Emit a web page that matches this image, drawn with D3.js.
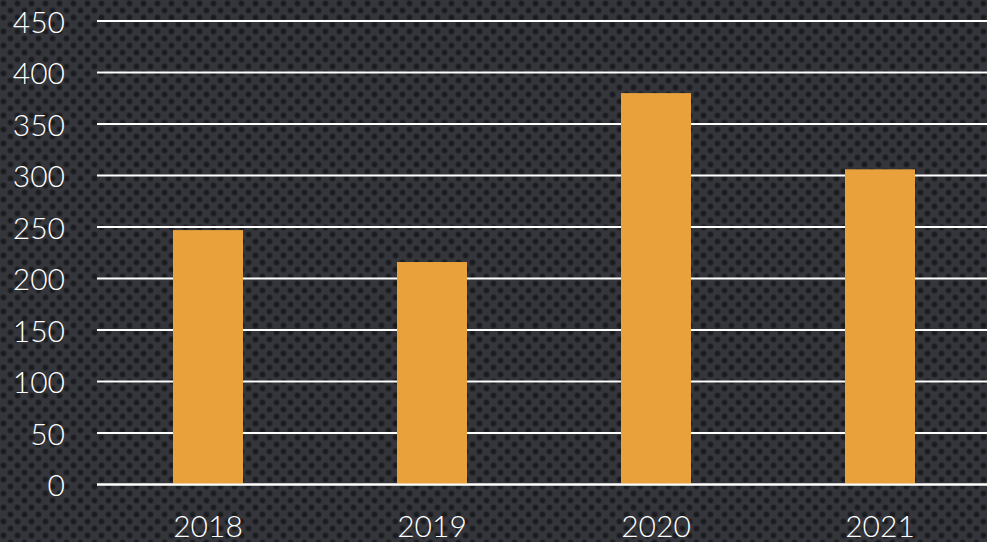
<!DOCTYPE html>
<html><head><meta charset="utf-8">
<script src="https://cdn.jsdelivr.net/npm/d3@7"></script>
<style>html,body{margin:0;padding:0;background:#2b2d31;overflow:hidden}</style>
</head><body>
<script>
const categories = ["2018", "2019", "2020", "2021"];
const values = [247, 216, 380, 306];
const yTicks = [0, 50, 100, 150, 200, 250, 300, 350, 400, 450];

const W = 987, H = 542;
const svg = d3.select("body").append("svg").attr("width", W).attr("height", H);
const defs = svg.append("defs");
const rg = defs.append("radialGradient").attr("id", "dot");
rg.append("stop").attr("offset", "0%").attr("stop-color", "#16171a");
rg.append("stop").attr("offset", "55%").attr("stop-color", "#1f2023");
rg.append("stop").attr("offset", "100%").attr("stop-color", "#2e3035").attr("stop-opacity", 0);
const P = 14;
const pat = defs.append("pattern").attr("id", "bg").attr("patternUnits", "userSpaceOnUse")
  .attr("width", P).attr("height", P);
pat.append("rect").attr("width", P).attr("height", P).attr("fill", "#34363b");
pat.append("circle").attr("cx", P / 4).attr("cy", P / 4).attr("r", 4.2).attr("fill", "url(#dot)");
pat.append("circle").attr("cx", 3 * P / 4).attr("cy", 3 * P / 4).attr("r", 4.2).attr("fill", "url(#dot)");
svg.append("rect").attr("width", W).attr("height", H).attr("fill", "url(#bg)");

const x = d3.scaleBand().domain(categories).range([96, 992]).paddingInner(0.6875).paddingOuter(0.34375);
const y = d3.scaleLinear().domain([0, 450]).range([484.5, 21]);

svg.append("g").selectAll("line").data(yTicks).join("line")
  .attr("x1", 97).attr("x2", W)
  .attr("y1", d => y(d)).attr("y2", d => y(d))
  .attr("stroke", "#ffffff").attr("stroke-width", 2);

svg.append("g").selectAll("rect").data(values).join("rect")
  .attr("x", (d, i) => x(categories[i]))
  .attr("width", x.bandwidth())
  .attr("y", d => y(d))
  .attr("height", d => y(0) - y(d))
  .attr("fill", "#e9a23b");

svg.append("line").attr("x1", 97).attr("x2", W).attr("y1", y(0)).attr("y2", y(0))
  .attr("stroke", "#fff").attr("stroke-width", 2);

const font = "'Lato', 'Noto Sans', sans-serif";
svg.append("g").selectAll("text").data(yTicks).join("text")
  .attr("x", 65).attr("y", d => y(d) + 11.5)
  .attr("text-anchor", "end")
  .attr("font-family", font).attr("font-size", 30).attr("font-weight", 300)
  .attr("fill", "#ffffff").text(d => d);

svg.append("g").selectAll("text").data(categories).join("text")
  .attr("x", d => x(d) + x.bandwidth() / 2).attr("y", 537)
  .attr("text-anchor", "middle")
  .attr("font-family", font).attr("font-size", 30).attr("font-weight", 300)
  .attr("fill", "#ffffff").text(d => d);
</script>
</body></html>
